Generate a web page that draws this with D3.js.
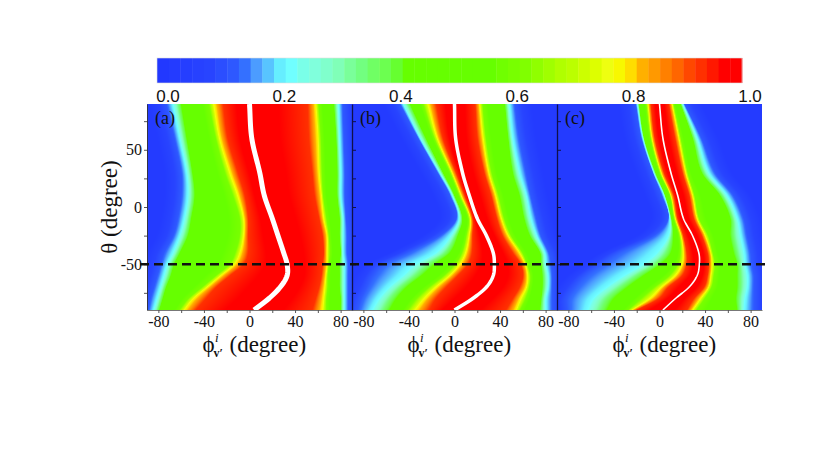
<!DOCTYPE html>
<html>
<head>
<meta charset="utf-8">
<script src="https://cdn.jsdelivr.net/npm/d3@7"></script>
<style>body{margin:0;background:#fff}</style>
</head>
<body>
<script>
/* Data
***********************************************************************/
// theta rows (degree) where the contour positions were read
var thetaRows = [90, 60, 30, 10, -10, -25, -40, -50, -60, -70, -80, -90];
// contour levels on the left flank (going up to the ridge); right flank mirrors them
var levelsLeft = [0.12, 0.22, 0.42, 0.60, 0.78, 0.92];

// panel (a): ridge (white line) phi, left contours, right contours (phi, degree)
var ridgeA = [0, 2, 9, 13, 20, 25, 30, 33, 33, 27, 17, 4];
var leftA = [
	[-73,-67,-60,-36,-31,-23], [-66,-61,-55,-30,-26,-19], [-60,-55,-50,-22,-17,-10],
	[-60,-54,-48,-15,-10,-4], [-63,-57,-51,-9,-5,-1], [-67,-61,-54,-9,-5,-1],
	[-75,-67,-61,-13,-8,-1], [-78,-72,-66,-18,-13,-5], [-81,-75,-69,-30,-25,-17],
	[-84,-78,-73,-42,-37,-29], [-87,-81,-76,-54,-49,-38], [-89,-84,-79,-62,-57,-47]];
var rightA = [
	[51,58,61,74,78,82], [52,60,63,76,79,83], [55,61,64,77,80,84],
	[57,63,65,77,80,84], [61,65,68,79,82,85], [64,68,70,79,82,86],
	[65,68,71,80,82,86], [64,68,70,79,83,87], [63,67,69,79,83,87],
	[61,66,69,79,83,87], [58,65,68,80,83,87], [55,64,68,80,83,87]];

// panel (b)
var ridgeB = [0, 1, 7, 13, 20, 28, 34, 35, 34, 28, 16, 0];
var leftB = [
	[-48,-45,-39,-28,-23,-16], [-32,-30,-25,-18,-15,-10], [-15,-13,-10,-4,-2,1.5],
	[-4,-2,0,4,6,9], [1.5,4,7,12,14,16], [-13,-3,3,10,13,16],
	[-42,-16,-4,6,10,15.5], [-63,-34,-17.5,0,5,12], [-72,-45,-29,-10,-4,3],
	[-77,-57,-42,-23,-16,-7], [-82,-66,-51,-34,-26,-16], [-85,-72,-57,-42,-34,-22]];
var rightB = [
	[18,22,25,44,48,53], [20,25,28,47,51,57], [26,30,33,51,57,63],
	[32,36,39,57,63,67], [37,41,44,61,67,72], [42,47,50,66,72,76],
	[51,57,60,75,79,83], [58,62,64,76,80,85], [60,64,67,77,82,86],
	[57,63,66,77,82,86], [51,58,63,76,80,86], [45,54,58,75,80,86]];

// panel (c)
var ridgeC = [0, 3, 10, 16, 21, 29, 34.5, 35, 33, 26, 14, 3];
var leftC = [
	[-21,-19.5,-18,-12,-10,-7.5], [-16,-14.5,-13.5,-8,-6.5,-4], [-6,-5,-3.5,0,1.5,4],
	[2,4,5,9,10,12.5], [7.6,9,10.5,12.5,14,16], [-5,8,12,17,19,21],
	[-37,-2,10,18,21,24], [-52,-14,1,15.5,20,24], [-66,-31,-14,8,14,20],
	[-75,-46,-28,-5,2,8], [-81,-58,-40,-17,-8,-0.5], [-81,-63,-46,-28,-24,-20]];
var rightC = [
	[8,11,12.6,18.4,20.5,22], [13.5,17,19,29,33,37], [20,23,25,37,43,49],
	[26,29,31,53,59,65], [30,33,35,62,68,74], [37,40,43,62,71,77],
	[42,45,47,65,74,80], [43,46,49,68,75,81], [42,45,48,68,77,83],
	[39,43,46,68,77,83], [30,36,40,67,75,83], [24,29,33,68,74,83]];

// colour bar
var cbStops = [0, 0.08, 0.12, 0.14, 0.16, 0.18, 0.20, 0.22, 0.24, 0.26,
	0.28, 0.30, 0.32, 0.34, 0.36, 0.38, 0.40, 0.42, 0.56, 0.58,
	0.60, 0.62, 0.64, 0.66, 0.68, 0.70, 0.72, 0.74, 0.76, 0.78,
	0.80, 0.82, 0.84, 0.86, 0.88, 0.90, 0.92, 0.94, 0.96, 1.0];
var cbColors = ["#2238ff","#2844ff","#2e58ff","#3470ff","#4c9cff","#58c4ff","#66eeff","#70ffff","#7affe8","#80ffdc",
	"#80ffcc","#80ffb8","#7aff9a","#72ff80","#70ff64","#6cff50","#66ff30","#66ff00","#66ff00","#70ff00",
	"#78ff00","#80ff00","#90ff00","#a0ff00","#b0ff00","#bbff00","#ccff00","#ddff00","#eeff10","#f8f800",
	"#ffdd00","#ffb000","#ff9900","#ff8000","#ff6600","#ff4800","#ff3000","#ff1800","#ff0000","#ff0000"];
var cbSteps = 50;
var cbTicks = [0.0, 0.2, 0.4, 0.6, 0.8, 1.0];

// axes
var phiTicks = [-80, -60, -40, -20, 0, 20, 40, 60, 80];
var phiLabels = [-80, -40, 0, 40, 80];
var thetaTicks = [75, 50, 25, 0, -25, -50, -75];
var thetaLabels = [50, 0, -50];
var dashTheta = -50;
var panelNames = ["(a)", "(b)", "(c)"];


/* Setup
***********************************************************************/
var svgW = 830, svgH = 467;
var serif = "Liberation Serif, DejaVu Serif, Times, serif";
var sans = "Liberation Sans, Arial, sans-serif";

var svg = d3.select("body").append("svg")
	.attr("width", svgW)
	.attr("height", svgH);

var panels = [
	{name: panelNames[0], ridge: ridgeA, left: leftA, right: rightA, x0: 147, lineW: 5},
	{name: panelNames[1], ridge: ridgeB, left: leftB, right: rightB, x0: 352, lineW: 3.5},
	{name: panelNames[2], ridge: ridgeC, left: leftC, right: rightC, x0: 557, lineW: 1.6}
];
var panelW = 205;
var yScale = d3.scaleLinear().domain([90, -90]).range([104, 310]);

var cmap = d3.scaleLinear().domain(cbStops).range(cbColors).clamp(true);
var stepRgb = d3.range(cbSteps).map(function(i) { return d3.rgb(cmap(i / cbSteps)); });
var knotVals = levelsLeft.concat([1], levelsLeft.slice().reverse());

// smooth (Hermite, finite-difference tangents) reading between theta rows
function colAt(vals, theta) {
	var n = thetaRows.length;
	var j = 0;
	while (j < n - 2 && theta < thetaRows[j + 1]) j++;
	var t0 = thetaRows[j], t1 = thetaRows[j + 1];
	var h = t1 - t0;
	var s = Math.max(0, Math.min(1, (theta - t0) / h));
	function slope(i) {
		var a = Math.max(0, i - 1), b = Math.min(n - 1, i + 1);
		return (vals[b] - vals[a]) / (thetaRows[b] - thetaRows[a]);
	}
	var m0 = slope(j), m1 = slope(j + 1);
	var s2 = s * s, s3 = s2 * s;
	return (2 * s3 - 3 * s2 + 1) * vals[j] + (s3 - 2 * s2 + s) * h * m0 +
		(-2 * s3 + 3 * s2) * vals[j + 1] + (s3 - s2) * h * m1;
}

function knotsAt(p, theta) {
	var k = [];
	for (var i = 0; i < 6; i++) k.push(colAt(p.left.map(function(r) { return r[i]; }), theta));
	k.push(colAt(p.ridge, theta));
	for (i = 0; i < 6; i++) k.push(colAt(p.right.map(function(r) { return r[i]; }), theta));
	for (i = 1; i < k.length; i++) k[i] = Math.max(k[i], k[i - 1] + 0.05);
	return k;
}

function valueAt(k, phi) {
	var n = k.length - 1;
	if (phi <= k[0]) return Math.max(0.02, 0.12 - 0.1 * (k[0] - phi) / 15);
	if (phi >= k[n]) return Math.max(0.02, 0.12 - 0.1 * (phi - k[n]) / 15);
	for (var i = 0; i < n; i++) {
		if (phi <= k[i + 1]) {
			return knotVals[i] + (knotVals[i + 1] - knotVals[i]) * (phi - k[i]) / (k[i + 1] - k[i]);
		}
	}
	return knotVals[n];
}


/* Heat maps
***********************************************************************/
var defs = svg.append("defs");

panels.forEach(function(p, pi) {
	var xScale = d3.scaleLinear().domain([-90, 90]).range([p.x0, p.x0 + panelW]);
	p.xScale = xScale;
	var y0 = yScale(90), h = Math.round(yScale(-90) - y0);

	var canvas = document.createElement("canvas");
	canvas.width = panelW;
	canvas.height = h;
	var ctx = canvas.getContext("2d");
	var img = ctx.createImageData(panelW, h);
	var ridgePts = [];
	for (var py = 0; py < h; py++) {
		var theta = yScale.invert(y0 + py + 0.5);
		var k = knotsAt(p, theta);
		ridgePts.push([k[6], theta]);
		for (var px = 0; px < panelW; px++) {
			var phi = xScale.invert(p.x0 + px + 0.5);
			var c = d3.rgb(cmap(valueAt(k, phi)));
			var o = (py * panelW + px) * 4;
			img.data[o] = c.r; img.data[o + 1] = c.g; img.data[o + 2] = c.b; img.data[o + 3] = 255;
		}
	}
	ctx.putImageData(img, 0, 0);

	svg.append("image")
		.attr("x", p.x0).attr("y", y0)
		.attr("width", panelW).attr("height", h)
		.attr("preserveAspectRatio", "none")
		.attr("href", canvas.toDataURL());

	defs.append("clipPath").attr("id", "clip" + pi)
		.append("rect").attr("x", p.x0).attr("y", y0).attr("width", panelW).attr("height", h);

	// white ridge line
	ridgePts.unshift([colAt(p.ridge, 90), 90]);
	ridgePts.push([colAt(p.ridge, -90), -90]);
	var line = d3.line()
		.x(function(d) { return xScale(d[0]); })
		.y(function(d) { return yScale(d[1]); });
	svg.append("path")
		.attr("d", line(ridgePts))
		.attr("clip-path", "url(#clip" + pi + ")")
		.attr("fill", "none")
		.attr("stroke", "#fff")
		.attr("stroke-width", p.lineW);

	// panel letter
	svg.append("text")
		.attr("x", p.x0 + 8).attr("y", 124)
		.attr("font-family", serif).attr("font-size", 18)
		.attr("fill", "#111")
		.text(p.name);
});


/* Axes
***********************************************************************/
panels.forEach(function(p, pi) {
	var gx = svg.append("g")
		.attr("transform", "translate(0," + yScale(-90) + ")")
		.call(d3.axisBottom(p.xScale)
			.tickValues(phiTicks)
			.tickSize(3).tickSizeOuter(0).tickPadding(3)
			.tickFormat(function(d) { return phiLabels.indexOf(d) >= 0 ? d : ""; }));
	gx.attr("font-family", serif).attr("font-size", 16);
	gx.select(".domain").attr("stroke", "#777");
	gx.selectAll(".tick line").attr("stroke", "#555");
	gx.selectAll("text").attr("fill", "#111");

	if (pi == 0) {
		var gy = svg.append("g")
			.attr("transform", "translate(" + p.x0 + ",0)")
			.call(d3.axisLeft(yScale)
				.tickValues(thetaTicks)
				.tickSize(3).tickSizeOuter(0).tickPadding(2)
				.tickFormat(function(d) { return thetaLabels.indexOf(d) >= 0 ? d : ""; }));
		gy.attr("font-family", serif).attr("font-size", 16);
		gy.select(".domain").attr("stroke", "#334");
		gy.selectAll(".tick line").attr("stroke", "#555");
		gy.selectAll("text").attr("fill", "#111");
	} else {
		var gi = svg.append("g")
			.attr("transform", "translate(" + p.x0 + ",0)")
			.call(d3.axisRight(yScale)
				.tickValues(thetaTicks)
				.tickSize(4).tickSizeOuter(0)
				.tickFormat(""));
		gi.select(".domain").attr("stroke", "#10104a").attr("stroke-width", 1.3);
		gi.selectAll(".tick line").attr("stroke", "#10104a");
	}

	// x axis title: phi^i_v' (degree)
	var cx = p.xScale(0) - 47;
	var t = svg.append("text")
		.attr("font-family", serif).attr("fill", "#111");
	t.append("tspan").attr("x", cx).attr("y", 352).attr("font-size", 23).text("\u03D5");
	t.append("tspan").attr("x", cx + 12.5).attr("y", 342).attr("font-size", 13)
		.attr("font-style", "italic").text("i");
	t.append("tspan").attr("x", cx + 11).attr("y", 357).attr("font-size", 12)
		.attr("font-weight", "bold").text("v\u2032");
	t.append("tspan").attr("x", cx + 27).attr("y", 352).attr("font-size", 23).text("(degree)");
});

// dashed line at theta = -50
svg.append("line")
	.attr("x1", 140).attr("x2", 766)
	.attr("y1", yScale(dashTheta)).attr("y2", yScale(dashTheta))
	.attr("stroke", "#111")
	.attr("stroke-width", 2.6)
	.attr("stroke-dasharray", "9,5");

// y axis title
svg.append("text")
	.attr("transform", "translate(117," + yScale(0) + ") rotate(-90)")
	.attr("text-anchor", "middle")
	.attr("font-family", serif).attr("font-size", 23).attr("fill", "#111")
	.text("\u03B8 (degree)");


/* Colour bar
***********************************************************************/
var cbScale = d3.scaleLinear().domain([0, 1]).range([157, 742]);
var cbLabelScale = d3.scaleLinear().domain([0, 1]).range([168, 750]);
var cbG = svg.append("g");
cbG.selectAll("rect")
	.data(d3.range(cbSteps))
	.enter().append("rect")
	.attr("x", function(i) { return cbScale(i / cbSteps); })
	.attr("width", function(i) { return cbScale((i + 1) / cbSteps) - cbScale(i / cbSteps) + 0.4; })
	.attr("y", 58).attr("height", 25)
	.attr("fill", function(i) { return stepRgb[i].toString(); });
cbG.append("rect")
	.attr("x", 157).attr("y", 58).attr("width", 585).attr("height", 25)
	.attr("fill", "none").attr("stroke", "#ddd").attr("stroke-width", 0.6);
cbG.selectAll("text")
	.data(cbTicks)
	.enter().append("text")
	.attr("x", function(d) { return cbLabelScale(d); })
	.attr("y", 102)
	.attr("text-anchor", "middle")
	.attr("font-family", sans).attr("font-size", 17).attr("fill", "#111")
	.text(function(d) { return d.toFixed(1); });
</script>
</body>
</html>
